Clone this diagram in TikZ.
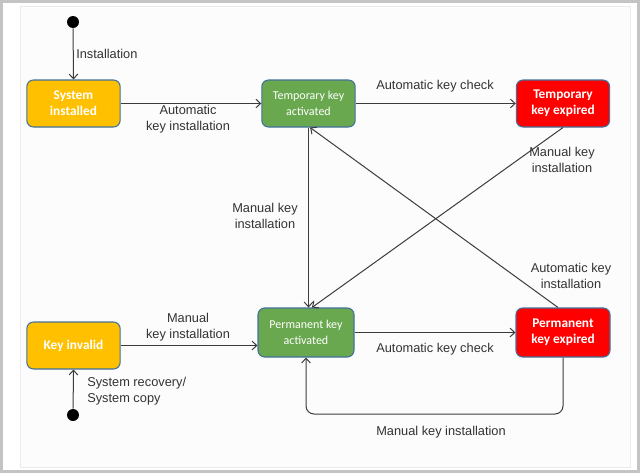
\documentclass[tikz,border=0pt]{standalone}
\usepackage{fontspec}
\setmainfont{Liberation Sans}
\newfontfamily\boxfont{Carlito}
\usetikzlibrary{arrows.meta}
\definecolor{frameg}{HTML}{C4C4C4}
\definecolor{innerbg}{HTML}{FCFCFC}
\definecolor{innerln}{HTML}{EBEBEB}
\definecolor{lineg}{HTML}{3C3C3C}
\definecolor{txtg}{HTML}{333333}
\definecolor{boxborder}{HTML}{41719C}
\definecolor{yel}{HTML}{FFC000}
\definecolor{grn}{HTML}{6AA84F}
\definecolor{rd}{HTML}{FF0000}
\tikzset{
  statebox/.style={draw=boxborder, line width=0.8pt, rounded corners=5pt, text=white,
    align=center, inner sep=0pt, minimum width=70pt, minimum height=35.25pt,
    font=\boxfont\fontsize{10}{12}\selectfont\bfseries},
  greenbox/.style={statebox, fill=grn, font=\boxfont\fontsize{9}{12}\selectfont},
  yellowbox/.style={statebox, fill=yel},
  redbox/.style={statebox, fill=rd},
  lbl/.style={text=txtg, align=center, inner sep=0pt, font=\fontsize{9.6}{12}\selectfont},
  conn/.style={draw=lineg, line width=0.75pt, -{Straight Barb[length=3.5pt,width=6.5pt]}},
  startdot/.style={circle, fill=black, minimum size=9pt, inner sep=0pt}
}
\begin{document}
\begin{tikzpicture}[x=0.75pt, y=-0.75pt]
\useasboundingbox (0,0) rectangle (640,475);
% frame
\fill[white] (0,0) rectangle (640,475);
\draw[frameg, line width=2.25pt] (1.5,1.5) rectangle (638.5,471);
\draw[innerln, fill=innerbg, line width=0.75pt] (20,6) rectangle (630,467);

% states
\node[yellowbox] (sys) at (73.5,103.5) {System\\installed};
\node[greenbox] (tact) at (308.5,103.5) {Temporary key\\activated};
\node[redbox] (texp) at (563,103.5) {Temporary\\key expired};
\node[yellowbox] (kinv) at (73.5,345.5) {Key invalid};
\node[greenbox, minimum width=72pt, minimum height=36.75pt] (pact) at (306,332.5) {Permanent key\\activated};
\node[redbox, minimum width=70.5pt, minimum height=36.75pt] (pexp) at (563,332.5) {Permanent\\key expired};

% start points
\node[startdot] (s1) at (73,22) {};
\node[startdot] (s2) at (73,415) {};

% connectors
\draw[conn] (s1) -- (sys.north);
\draw[conn] (s2) -- (kinv.south);
\draw[conn] (sys.east) -- (sys.east -| tact.west);
\draw[conn] (tact.east) -- (tact.east -| texp.west);
\draw[conn] (kinv.east) -- (kinv.east -| pact.west);
\draw[conn] (pact.east) -- (pact.east -| pexp.west);
\draw[conn] (tact.south) -- (tact.south |- pact.north);
\draw[conn] (texp.south) -- ([xshift=4.5pt]pact.north);
\draw[conn] ([xshift=-3.75pt]pexp.north) -- ([xshift=1.2pt]tact.south);
\coordinate (lp) at (306,414);
\draw[conn, rounded corners=6pt] (pexp.south) |- (lp) -- (pact.south);

% labels
\node[lbl, anchor=west] (l1) at (76,54) {Installation};
\node[lbl] (l2) at (188,119) {Automatic\\key installation};
\node[lbl] (l3) at (435,86) {Automatic key check};
\node[lbl] (l4) at (265,216) {Manual key\\installation};
\node[lbl] (l5) at (562,160) {Manual key\\installation};
\node[lbl] (l6) at (571,276) {Automatic key\\installation};
\node[lbl] (l7) at (188,327) {Manual\\key installation};
\node[lbl] (l8) at (435,349) {Automatic key check};
\node[lbl] (l9) at (441,432) {Manual key installation};
\node[lbl, anchor=west, align=left] (l10) at (87,391) {System recovery/\\System copy};
\end{tikzpicture}
\end{document}
